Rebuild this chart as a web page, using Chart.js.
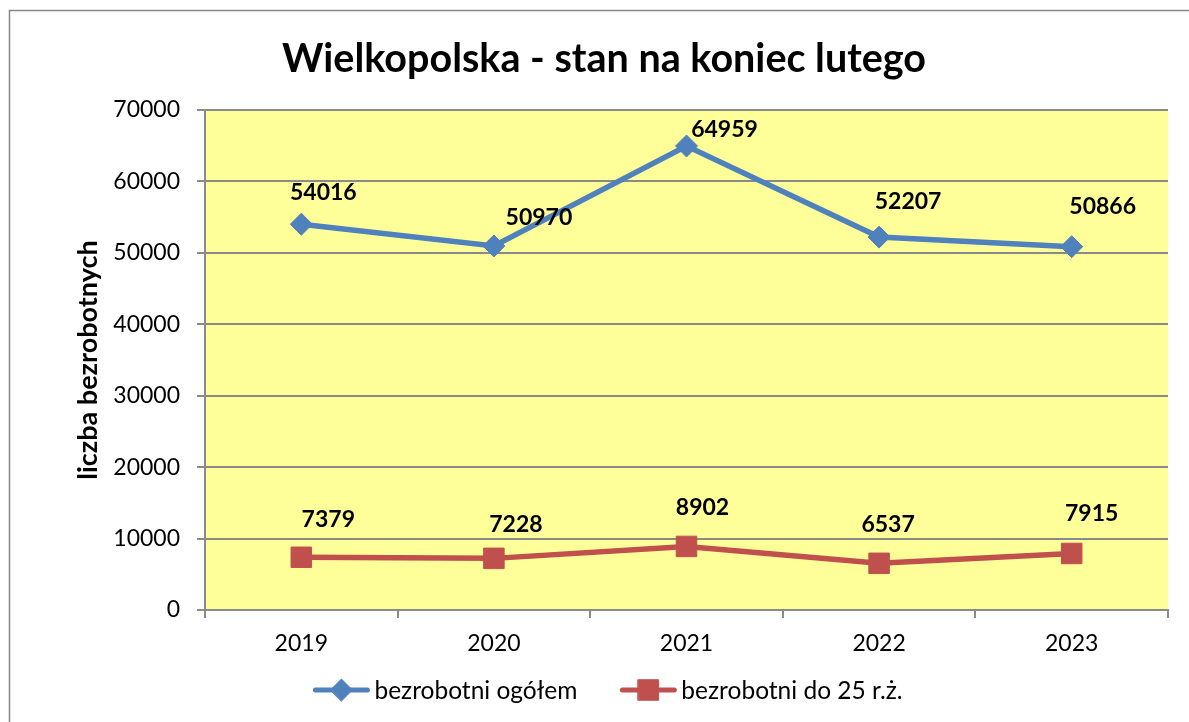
<!DOCTYPE html>
<html>
<head>
<meta charset="utf-8">
<script src="https://cdn.jsdelivr.net/npm/chart.js@4/dist/chart.umd.min.js"></script>
<style>
  html, body { margin: 0; padding: 0; background: #fff; }
  #wrap { width: 1189px; height: 722px; }
</style>
</head>
<body>
<div id="wrap"><canvas id="chart" width="1189" height="722"></canvas></div>
<script>
// data
const years = ['2019', '2020', '2021', '2022', '2023'];
const totalUnemployed = [54016, 50970, 64959, 52207, 50866];
const under25 = [7379, 7228, 8902, 6537, 7915];
const seriesNames = ['bezrobotni ogółem', 'bezrobotni do 25 r.ż.'];
const yMin = 0, yMax = 70000, yStep = 10000;

// label nudges (px) so the value labels sit like in the original
const labelOffsets = [
  [[22, -32], [45, -28], [38, -16], [29, -36], [31, -40]],
  [[27, -38], [22, -34], [16, -39], [9, -39], [20, -40]]
];

const FONT = 'Lato';
const GRID = '#8a8a8a';
const BLUE = '#4F81BD';
const RED = '#C0504D';

const bgPlugin = {
  id: 'bg',
  beforeDraw(chart) {
    const { ctx, chartArea: a } = chart;
    ctx.save();
    ctx.fillStyle = '#fff';
    ctx.fillRect(0, 0, chart.width, chart.height);
    ctx.strokeStyle = '#878787';
    ctx.lineWidth = 1.5;
    ctx.strokeRect(9.5, 10.5, 1400, 900);
    ctx.fillStyle = '#FFFF99';
    ctx.fillRect(a.left, a.top, a.right - a.left, a.bottom - a.top);
    ctx.restore();
  }
};

const valueLabels = {
  id: 'valueLabels',
  afterDatasetsDraw(chart) {
    const { ctx } = chart;
    ctx.save();
    ctx.font = 'bold 23px ' + FONT;
    ctx.fillStyle = '#000';
    ctx.textAlign = 'center';
    ctx.textBaseline = 'middle';
    chart.data.datasets.forEach((ds, i) => {
      chart.getDatasetMeta(i).data.forEach((pt, j) => {
        const [dx, dy] = labelOffsets[i][j];
        ctx.fillText(String(ds.data[j]), pt.x + dx, pt.y + dy);
      });
    });
    ctx.restore();
  }
};

// legend with line + marker like the office chart
const lineLegend = {
  id: 'lineLegend',
  afterDraw(chart) {
    const { ctx } = chart;
    const lineLen = 56, textGap = 5, itemGap = 43, cy = 690, cx = 608;
    ctx.save();
    ctx.font = '24.5px ' + FONT;
    ctx.textBaseline = 'middle';
    const items = chart.data.datasets.map(ds => ({ ds, w: lineLen + textGap + ctx.measureText(ds.label).width }));
    const total = items.reduce((s, it) => s + it.w, 0) + itemGap * (items.length - 1);
    let x = cx - total / 2;
    items.forEach(({ ds, w }) => {
      ctx.strokeStyle = ds.borderColor;
      ctx.lineWidth = 5;
      ctx.lineCap = 'round';
      ctx.beginPath();
      ctx.moveTo(x + 2, cy);
      ctx.lineTo(x + lineLen - 2, cy);
      ctx.stroke();
      ctx.fillStyle = ds.backgroundColor;
      ctx.strokeStyle = ds.borderColor;
      ctx.lineWidth = 1;
      Chart.helpers.drawPoint(ctx, {
        pointStyle: ds.pointStyle, radius: ds.pointRadius, borderWidth: 1
      }, x + lineLen / 2, cy);
      ctx.fillStyle = '#000';
      ctx.fillText(ds.label, x + lineLen + textGap, cy + 1);
      x += w + itemGap;
    });
    ctx.restore();
  }
};

new Chart(document.getElementById('chart'), {
  type: 'line',
  data: {
    labels: years,
    datasets: [{
      label: seriesNames[0],
      data: totalUnemployed,
      borderColor: BLUE,
      backgroundColor: BLUE,
      borderWidth: 5.5,
      pointStyle: 'rectRot',
      pointRadius: 11,
      pointBorderWidth: 1,
      tension: 0
    }, {
      label: seriesNames[1],
      data: under25,
      borderColor: RED,
      backgroundColor: RED,
      borderWidth: 5.5,
      pointStyle: 'rect',
      pointRadius: 14.5,
      pointBorderWidth: 1,
      tension: 0
    }]
  },
  options: {
    responsive: false,
    animation: false,
    devicePixelRatio: 1,
    layout: { padding: { left: 40, right: 21, top: 0, bottom: 52 } },
    plugins: {
      legend: { display: false },
      tooltip: { enabled: false },
      title: {
        display: true,
        text: 'Wielkopolska - stan na koniec lutego',
        color: '#000',
        font: { family: FONT, size: 39.5, weight: 'bold', lineHeight: 1.2 },
        padding: { top: 36, bottom: 26.6 }
      }
    },
    scales: {
      x: {
        offset: true,
        grid: { offset: true, drawOnChartArea: false, drawTicks: true, tickLength: 8, color: GRID, lineWidth: 2 },
        border: { display: true, color: GRID, width: 2 },
        ticks: { color: '#000', font: { family: FONT, size: 23 }, padding: 12 },
        afterFit(s) { s.height = 60; }
      },
      y: {
        min: yMin,
        max: yMax,
        grid: { color: GRID, lineWidth: 2, tickLength: 8 },
        border: { display: true, color: GRID, width: 2 },
        ticks: {
          stepSize: yStep,
          color: '#000',
          font: { family: FONT, size: 23 },
          padding: 17,
          callback: v => String(v)
        },
        title: {
          display: true,
          text: 'liczba bezrobotnych',
          color: '#000',
          font: { family: FONT, size: 27, weight: 'bold', lineHeight: 1.2 },
          padding: { top: 32, bottom: 0 }
        },
        afterFit(s) { s.width = 165; }
      }
    }
  },
  plugins: [bgPlugin, valueLabels, lineLegend]
});
</script>
</body>
</html>
